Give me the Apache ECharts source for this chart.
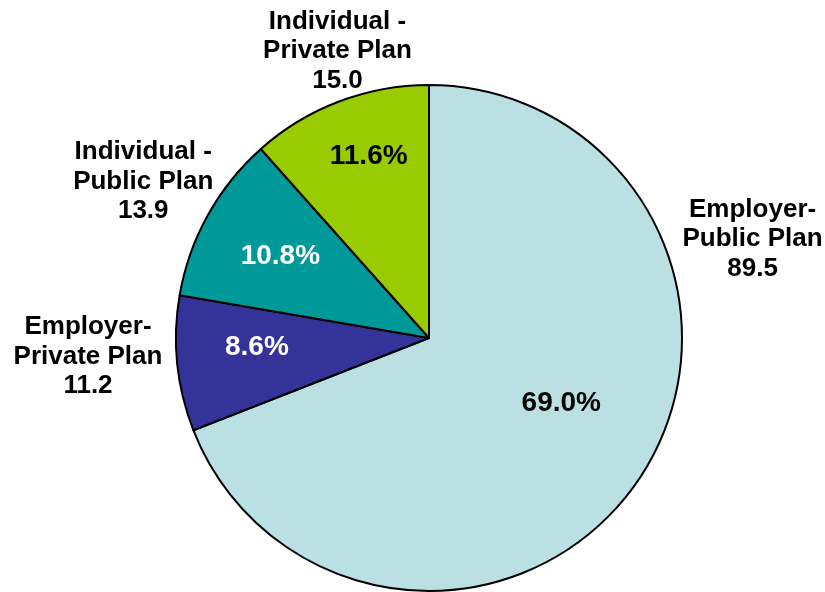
<!DOCTYPE html>
<html>
<head>
<meta charset="utf-8">
<script src="https://cdn.jsdelivr.net/npm/echarts@6/dist/echarts.min.js"></script>
<style>
html,body{margin:0;padding:0;background:#fff;}
#chart{width:825px;height:592px;}
</style>
</head>
<body>
<div id="chart"></div>
<script>
// slices clockwise from 12 o'clock
var names = ['Employer-\nPublic Plan', 'Employer-\nPrivate Plan', 'Individual -\nPublic Plan', 'Individual -\nPrivate Plan'];
var values = [89.5, 11.2, 13.9, 15.0];
var percents = ['69.0%', '8.6%', '10.8%', '11.6%'];
var colors = ['#BAE0E3', '#333399', '#009999', '#99CC00'];
var pctColors = ['#000', '#fff', '#fff', '#000'];
// label nudges (px), the original does not sit on the mid angle
var nameOffsets = [[28, -253], [5, -9], [23, -24], [80, -32]];
var pctOffsets = [[10, -18], [5, -9], [7, 5], [3, -15]];

var myChart = echarts.init(document.getElementById('chart'));
var center = [429, 338];
var fontFamily = 'Liberation Sans, Arial, sans-serif';

var mainData = [];
var bigLbl = [];
var smallLbl = [];
for (var i = 0; i < values.length; i++) {
	mainData.push({
		name: names[i], value: values[i],
		itemStyle: {color: colors[i]},
		label: {offset: nameOffsets[i]}
	});
	// label-only overlays for the percentages
	bigLbl.push({
		name: names[i], value: values[i],
		label: {show: i == 0, formatter: percents[i], color: pctColors[i], offset: pctOffsets[i]}
	});
	smallLbl.push({
		name: names[i], value: values[i],
		label: {show: i != 0, formatter: percents[i], color: pctColors[i], offset: pctOffsets[i]}
	});
}

var pctLabel = {
	position: 'inside',
	fontFamily: fontFamily,
	fontWeight: 'bold',
	fontSize: 28
};

var option = {
	backgroundColor: '#fff',
	animation: false,
	series: [
		{
			type: 'pie',
			center: center,
			radius: 253,
			startAngle: 90,
			clockwise: true,
			avoidLabelOverlap: false,
			itemStyle: {borderColor: '#000', borderWidth: 2},
			label: {
				show: true,
				position: 'outside',
				distanceToLabelLine: 0,
				formatter: function (p) {
					var lines = p.name.split('\n');
					lines.push(p.value.toFixed(1));
					return lines.map(function (s) { return '{a|' + s + '}'; }).join('\n');
				},
				rich: {
					a: {
						fontFamily: fontFamily,
						fontWeight: 'bold',
						fontSize: 26,
						lineHeight: 29.5,
						color: '#000',
						align: 'center'
					}
				}
			},
			labelLine: {show: false, length: 20, length2: 0},
			data: mainData
		},
		{
			type: 'pie',
			center: center,
			radius: 290,
			startAngle: 90,
			silent: true,
			itemStyle: {color: 'rgba(0,0,0,0)'},
			label: pctLabel,
			labelLine: {show: false},
			data: bigLbl
		},
		{
			type: 'pie',
			center: center,
			radius: 350,
			startAngle: 90,
			silent: true,
			itemStyle: {color: 'rgba(0,0,0,0)'},
			label: pctLabel,
			labelLine: {show: false},
			data: smallLbl
		}
	]
};
myChart.setOption(option);
</script>
</body>
</html>
